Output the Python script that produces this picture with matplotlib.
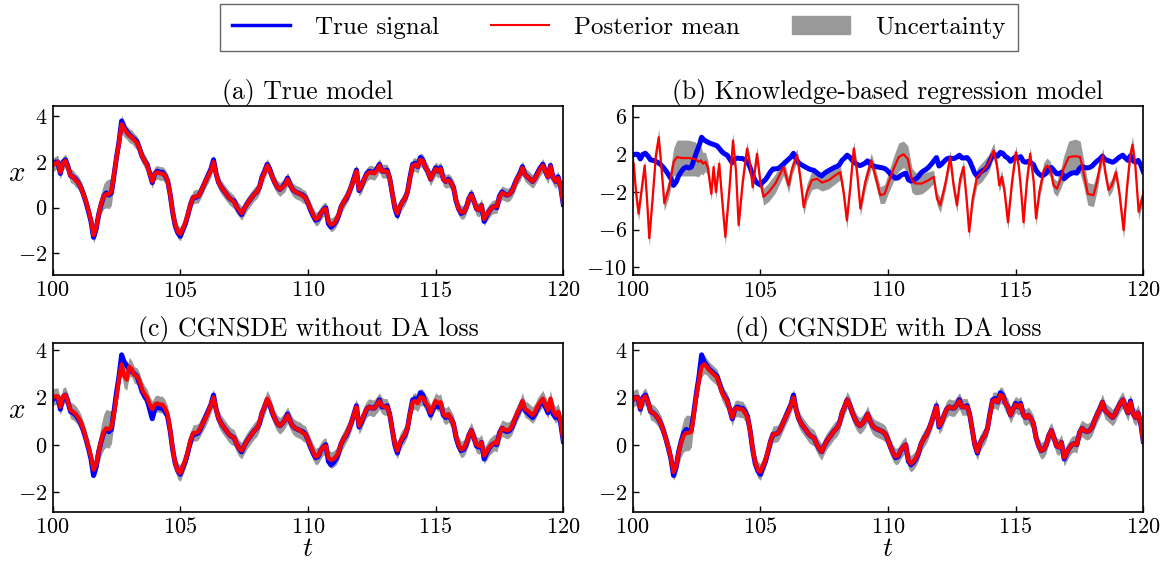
import numpy as np
import matplotlib
matplotlib.use("Agg")
import matplotlib.pyplot as plt
from matplotlib.lines import Line2D
from matplotlib.patches import Patch

# ------------------ CONFIG ------------------
plt.rcParams.update({
    "font.family": "cmr10",
    "mathtext.fontset": "cm",
    "axes.formatter.use_mathtext": True,
    "axes.linewidth": 1.2,
})

# ------------------ DATA ------------------
# time grid for the true signal and CGNSDE posterior means (step 0.1)
t_grid = np.round(np.arange(100.0, 120.05, 0.1), 2)

x_true = [
    1.9, 2.0, 2.0, 1.5, 2.0, 2.1, 1.8, 1.4, 1.35, 1.25,
    1.1, 0.9, 0.6, 0.25, -0.15, -0.6, -1.3, -0.95, -0.3, 0.15,
    0.5, 0.65, 0.55, 0.65, 1.4, 2.2, 2.9, 3.8, 3.5, 3.35,
    3.2, 3.1, 3.0, 2.9, 2.6, 2.25, 2.05, 1.9, 1.5, 1.1,
    1.5, 1.6, 1.55, 1.55, 1.4, 1.2, 0.6, -0.2, -0.8, -1.1,
    -1.25, -0.95, -0.7, -0.3, 0.15, 0.45, 0.45, 0.5, 0.7, 0.95,
    1.2, 1.45, 1.7, 2.1, 1.5, 1.1, 0.9, 0.75, 0.6, 0.45,
    0.35, 0.3, 0.05, -0.15, -0.3, -0.05, 0.15, 0.3, 0.45, 0.6,
    0.7, 0.9, 1.35, 1.6, 1.9, 1.7, 1.35, 1.1, 0.9, 0.8,
    0.9, 1.05, 1.3, 1.0, 0.8, 0.7, 0.65, 0.6, 0.55, 0.45,
    0.2, -0.1, -0.35, -0.55, -0.5, -0.25, -0.1, 0.0, -0.7, -0.85,
    -0.75, -0.6, -0.35, 0.05, 0.25, 0.4, 0.65, 0.95, 1.3, 1.65,
    0.75, 0.95, 1.25, 1.5, 1.6, 1.55, 1.55, 1.7, 1.9, 1.6,
    1.6, 1.65, 1.3, 0.65, 0.0, -0.35, 0.05, 0.25, 0.4, 0.7,
    1.35, 1.9, 1.95, 1.8, 2.2, 2.1, 1.75, 1.6, 1.25, 1.5,
    1.75, 1.6, 1.75, 1.25, 1.15, 1.25, 1.1, 0.9, 0.3, -0.05,
    -0.25, -0.2, 0.0, 0.4, 0.6, 0.3, -0.05, -0.1, 0.1, -0.6,
    -0.35, -0.15, 0.0, 0.05, 0.0, 0.5, 0.7, 0.6, 0.55, 0.6,
    0.75, 1.05, 1.3, 1.5, 1.8, 1.45, 1.35, 1.25, 1.15, 1.3,
    1.55, 1.75, 1.9, 1.6, 1.35, 1.85, 1.3, 1.15, 1.35, 0.9,
    0.15,
]

# (a) true model
mean_true_model = [
    1.85, 1.95, 2.0, 1.55, 1.95, 2.05, 1.75, 1.4, 1.35, 1.2,
    1.1, 0.9, 0.6, 0.3, -0.1, -0.55, -1.2, -0.9, -0.3, 0.2,
    0.5, 0.6, 0.6, 0.7, 1.45, 2.2, 2.85, 3.65, 3.45, 3.3,
    3.15, 3.1, 2.95, 2.85, 2.6, 2.25, 2.05, 1.85, 1.5, 1.15,
    1.5, 1.55, 1.5, 1.5, 1.4, 1.2, 0.6, -0.15, -0.75, -1.05,
    -1.15, -0.9, -0.65, -0.25, 0.15, 0.45, 0.5, 0.5, 0.7, 0.95,
    1.2, 1.4, 1.65, 2.0, 1.5, 1.1, 0.9, 0.75, 0.6, 0.45,
    0.35, 0.25, 0.05, -0.1, -0.25, -0.05, 0.15, 0.3, 0.45, 0.6,
    0.7, 0.9, 1.3, 1.55, 1.85, 1.65, 1.35, 1.1, 0.9, 0.8,
    0.9, 1.0, 1.25, 1.0, 0.8, 0.7, 0.65, 0.6, 0.5, 0.45,
    0.2, -0.05, -0.3, -0.5, -0.45, -0.25, -0.1, -0.05, -0.6, -0.75,
    -0.7, -0.55, -0.3, 0.05, 0.25, 0.45, 0.65, 0.95, 1.25, 1.6,
    0.8, 0.95, 1.25, 1.45, 1.55, 1.55, 1.5, 1.65, 1.85, 1.6,
    1.6, 1.6, 1.3, 0.65, 0.05, -0.25, 0.05, 0.25, 0.4, 0.7,
    1.3, 1.85, 1.9, 1.8, 2.1, 2.05, 1.75, 1.6, 1.25, 1.5,
    1.7, 1.6, 1.7, 1.25, 1.15, 1.2, 1.1, 0.9, 0.35, -0.05,
    -0.2, -0.2, 0.0, 0.4, 0.55, 0.3, -0.05, -0.1, 0.1, -0.5,
    -0.3, -0.15, 0.0, 0.05, 0.05, 0.45, 0.65, 0.6, 0.55, 0.6,
    0.75, 1.0, 1.3, 1.45, 1.75, 1.45, 1.35, 1.25, 1.15, 1.3,
    1.5, 1.7, 1.85, 1.6, 1.35, 1.8, 1.3, 1.15, 1.3, 0.9,
    0.2,
]
std_true_model = [
    0.3, 0.3, 0.3, 0.3, 0.3, 0.3, 0.3, 0.3, 0.3, 0.3,
    0.3, 0.3, 0.3, 0.3, 0.3, 0.3, 0.35, 0.35, 0.4, 0.45,
    0.55, 0.6, 0.65, 0.6, 0.45, 0.35, 0.35, 0.4, 0.35, 0.3,
    0.3, 0.3, 0.3, 0.3, 0.3, 0.3, 0.3, 0.3, 0.3, 0.3,
    0.3, 0.3, 0.3, 0.3, 0.3, 0.3, 0.3, 0.3, 0.3, 0.3,
    0.3, 0.3, 0.3, 0.3, 0.3, 0.3, 0.3, 0.3, 0.3, 0.3,
    0.3, 0.3, 0.3, 0.3, 0.3, 0.3, 0.3, 0.3, 0.3, 0.3,
    0.3, 0.3, 0.3, 0.3, 0.3, 0.3, 0.3, 0.3, 0.3, 0.3,
    0.3, 0.3, 0.3, 0.3, 0.3, 0.3, 0.3, 0.3, 0.3, 0.3,
    0.3, 0.3, 0.3, 0.3, 0.3, 0.3, 0.3, 0.3, 0.3, 0.3,
    0.3, 0.3, 0.3, 0.3, 0.3, 0.3, 0.3, 0.3, 0.3, 0.3,
    0.3, 0.3, 0.3, 0.3, 0.3, 0.3, 0.3, 0.3, 0.3, 0.3,
    0.3, 0.3, 0.3, 0.3, 0.3, 0.3, 0.3, 0.3, 0.3, 0.3,
    0.3, 0.3, 0.3, 0.3, 0.3, 0.3, 0.3, 0.3, 0.3, 0.3,
    0.3, 0.3, 0.3, 0.3, 0.3, 0.3, 0.3, 0.3, 0.3, 0.3,
    0.3, 0.3, 0.3, 0.3, 0.3, 0.3, 0.3, 0.3, 0.3, 0.3,
    0.3, 0.3, 0.3, 0.3, 0.3, 0.3, 0.3, 0.3, 0.3, 0.3,
    0.3, 0.3, 0.3, 0.3, 0.3, 0.3, 0.3, 0.3, 0.3, 0.3,
    0.3, 0.3, 0.3, 0.3, 0.3, 0.3, 0.3, 0.3, 0.3, 0.3,
    0.3, 0.3, 0.3, 0.3, 0.3, 0.3, 0.3, 0.3, 0.3, 0.3,
    0.3,
]

# (c) CGNSDE without DA loss
mean_no_da = [
    2.0, 2.05, 2.05, 1.6, 2.05, 2.1, 1.8, 1.45, 1.4, 1.3,
    1.15, 0.95, 0.65, 0.3, -0.1, -0.5, -1.05, -0.85, -0.3, 0.2,
    0.55, 0.7, 0.65, 0.75, 1.3, 2.0, 2.8, 3.4, 2.9, 2.75,
    3.3, 3.2, 2.95, 2.9, 2.7, 2.35, 2.15, 2.0, 1.7, 1.5,
    1.7, 1.75, 1.7, 1.7, 1.55, 1.3, 0.65, -0.15, -0.8, -1.1,
    -1.2, -0.9, -0.65, -0.25, 0.2, 0.5, 0.5, 0.55, 0.75, 0.95,
    1.15, 1.4, 1.7, 2.0, 1.5, 1.1, 0.9, 0.75, 0.6, 0.45,
    0.35, 0.3, 0.05, -0.15, -0.25, -0.05, 0.15, 0.3, 0.45, 0.6,
    0.7, 0.95, 1.35, 1.6, 1.95, 1.75, 1.4, 1.1, 0.9, 0.8,
    0.9, 1.05, 1.25, 1.0, 0.8, 0.7, 0.65, 0.6, 0.5, 0.45,
    0.2, -0.05, -0.3, -0.5, -0.45, -0.25, -0.1, -0.05, -0.55, -0.65,
    -0.6, -0.5, -0.3, 0.05, 0.25, 0.45, 0.65, 0.95, 1.3, 1.6,
    0.8, 1.0, 1.3, 1.5, 1.6, 1.55, 1.55, 1.7, 1.85, 1.65,
    1.6, 1.6, 1.3, 0.65, 0.05, -0.25, 0.1, 0.3, 0.45, 0.7,
    1.3, 1.8, 1.85, 1.75, 2.0, 2.0, 1.8, 1.65, 1.35, 1.6,
    1.85, 1.75, 1.8, 1.3, 1.2, 1.3, 1.1, 0.9, 0.35, 0.0,
    -0.2, -0.15, 0.05, 0.4, 0.6, 0.3, 0.0, -0.05, 0.1, -0.45,
    -0.3, -0.1, 0.0, 0.1, 0.05, 0.45, 0.7, 0.65, 0.6, 0.65,
    0.8, 1.1, 1.35, 1.55, 1.85, 1.5, 1.45, 1.35, 1.25, 1.4,
    1.65, 1.8, 1.95, 1.7, 1.45, 1.95, 1.45, 1.25, 1.4, 1.0,
    0.2,
]
std_no_da = [
    0.35, 0.35, 0.35, 0.35, 0.35, 0.35, 0.35, 0.35, 0.35, 0.35,
    0.35, 0.35, 0.35, 0.35, 0.35, 0.35, 0.35, 0.4, 0.5, 0.65,
    0.75, 0.8, 0.8, 0.7, 0.5, 0.4, 0.4, 0.45, 0.5, 0.45,
    0.4, 0.35, 0.35, 0.35, 0.35, 0.35, 0.35, 0.35, 0.35, 0.35,
    0.35, 0.35, 0.35, 0.35, 0.35, 0.35, 0.35, 0.35, 0.35, 0.35,
    0.35, 0.35, 0.35, 0.35, 0.35, 0.35, 0.35, 0.35, 0.35, 0.35,
    0.35, 0.35, 0.35, 0.35, 0.35, 0.35, 0.35, 0.35, 0.35, 0.35,
    0.35, 0.35, 0.35, 0.35, 0.35, 0.35, 0.35, 0.35, 0.35, 0.35,
    0.35, 0.35, 0.35, 0.35, 0.35, 0.35, 0.35, 0.35, 0.35, 0.35,
    0.35, 0.35, 0.35, 0.35, 0.35, 0.35, 0.35, 0.35, 0.35, 0.35,
    0.35, 0.35, 0.35, 0.35, 0.35, 0.35, 0.35, 0.35, 0.35, 0.35,
    0.35, 0.35, 0.35, 0.35, 0.35, 0.35, 0.35, 0.35, 0.35, 0.35,
    0.35, 0.35, 0.35, 0.35, 0.35, 0.35, 0.35, 0.35, 0.35, 0.35,
    0.35, 0.35, 0.35, 0.35, 0.35, 0.35, 0.35, 0.35, 0.35, 0.35,
    0.35, 0.35, 0.35, 0.35, 0.35, 0.35, 0.35, 0.35, 0.35, 0.35,
    0.35, 0.35, 0.35, 0.35, 0.35, 0.35, 0.35, 0.35, 0.35, 0.35,
    0.35, 0.35, 0.35, 0.35, 0.35, 0.35, 0.35, 0.35, 0.35, 0.35,
    0.35, 0.35, 0.35, 0.35, 0.35, 0.35, 0.35, 0.35, 0.35, 0.35,
    0.35, 0.35, 0.35, 0.35, 0.35, 0.35, 0.35, 0.35, 0.35, 0.35,
    0.35, 0.35, 0.35, 0.35, 0.35, 0.35, 0.35, 0.35, 0.35, 0.35,
    0.35,
]

# (d) CGNSDE with DA loss
mean_with_da = [
    1.9, 2.0, 2.0, 1.55, 1.95, 2.05, 1.8, 1.4, 1.35, 1.25,
    1.1, 0.9, 0.6, 0.25, -0.1, -0.55, -1.15, -0.9, -0.35, 0.1,
    0.4, 0.5, 0.5, 0.55, 1.3, 2.1, 2.75, 3.3, 3.4, 3.3,
    3.15, 3.05, 2.95, 2.85, 2.55, 2.2, 2.0, 1.85, 1.5, 1.15,
    1.5, 1.55, 1.5, 1.5, 1.35, 1.15, 0.6, -0.15, -0.75, -1.05,
    -1.15, -0.9, -0.65, -0.25, 0.15, 0.45, 0.45, 0.5, 0.7, 0.95,
    1.2, 1.4, 1.7, 2.0, 1.5, 1.1, 0.9, 0.75, 0.6, 0.45,
    0.35, 0.3, 0.05, -0.15, -0.3, -0.05, 0.15, 0.3, 0.45, 0.6,
    0.7, 0.9, 1.35, 1.6, 1.9, 1.7, 1.35, 1.1, 0.9, 0.8,
    0.9, 1.05, 1.3, 1.0, 0.8, 0.7, 0.65, 0.6, 0.55, 0.45,
    0.2, -0.1, -0.35, -0.5, -0.45, -0.25, -0.1, 0.0, -0.65, -0.8,
    -0.7, -0.55, -0.3, 0.05, 0.25, 0.4, 0.65, 0.95, 1.3, 1.6,
    0.8, 0.95, 1.25, 1.5, 1.6, 1.55, 1.55, 1.7, 1.85, 1.6,
    1.6, 1.6, 1.3, 0.65, 0.0, -0.3, 0.05, 0.25, 0.4, 0.7,
    1.3, 1.85, 1.9, 1.8, 2.1, 2.05, 1.75, 1.6, 1.25, 1.5,
    1.7, 1.6, 1.7, 1.25, 1.15, 1.25, 1.1, 0.9, 0.3, -0.05,
    -0.25, -0.2, 0.0, 0.4, 0.6, 0.3, -0.05, -0.1, 0.1, -0.55,
    -0.35, -0.15, 0.0, 0.05, 0.0, 0.5, 0.7, 0.6, 0.55, 0.6,
    0.75, 1.05, 1.3, 1.5, 1.8, 1.45, 1.35, 1.25, 1.15, 1.3,
    1.55, 1.75, 1.9, 1.6, 1.35, 1.8, 1.3, 1.15, 1.35, 0.9,
    0.15,
]
std_with_da = [
    0.35, 0.35, 0.35, 0.35, 0.35, 0.35, 0.35, 0.35, 0.35, 0.35,
    0.35, 0.35, 0.35, 0.35, 0.35, 0.35, 0.35, 0.4, 0.5, 0.6,
    0.7, 0.75, 0.75, 0.65, 0.45, 0.4, 0.4, 0.45, 0.4, 0.35,
    0.35, 0.35, 0.35, 0.35, 0.35, 0.35, 0.35, 0.35, 0.35, 0.35,
    0.35, 0.35, 0.35, 0.35, 0.35, 0.35, 0.35, 0.35, 0.35, 0.35,
    0.35, 0.35, 0.35, 0.35, 0.35, 0.35, 0.35, 0.35, 0.35, 0.35,
    0.35, 0.35, 0.35, 0.35, 0.35, 0.35, 0.35, 0.35, 0.35, 0.35,
    0.35, 0.35, 0.35, 0.35, 0.35, 0.35, 0.35, 0.35, 0.35, 0.35,
    0.35, 0.35, 0.35, 0.35, 0.35, 0.35, 0.35, 0.35, 0.35, 0.35,
    0.35, 0.35, 0.35, 0.35, 0.35, 0.35, 0.35, 0.35, 0.35, 0.35,
    0.35, 0.35, 0.35, 0.35, 0.35, 0.35, 0.35, 0.35, 0.35, 0.35,
    0.35, 0.35, 0.35, 0.35, 0.35, 0.35, 0.35, 0.35, 0.35, 0.35,
    0.35, 0.35, 0.35, 0.35, 0.35, 0.35, 0.35, 0.35, 0.35, 0.35,
    0.35, 0.35, 0.35, 0.35, 0.35, 0.35, 0.35, 0.35, 0.35, 0.35,
    0.35, 0.35, 0.35, 0.35, 0.35, 0.35, 0.35, 0.35, 0.35, 0.35,
    0.35, 0.35, 0.35, 0.35, 0.35, 0.35, 0.35, 0.35, 0.35, 0.35,
    0.35, 0.35, 0.35, 0.35, 0.35, 0.35, 0.35, 0.35, 0.35, 0.35,
    0.35, 0.35, 0.35, 0.35, 0.35, 0.35, 0.35, 0.35, 0.35, 0.35,
    0.35, 0.35, 0.35, 0.35, 0.35, 0.35, 0.35, 0.35, 0.35, 0.35,
    0.35, 0.35, 0.35, 0.35, 0.35, 0.35, 0.35, 0.35, 0.35, 0.35,
    0.35,
]

# (b) knowledge-based regression model, on its own time points
t_kbr = [
    100.0, 100.04, 100.13, 100.23, 100.37, 100.47, 100.56, 100.65, 100.78, 100.91,
    101.02, 101.12, 101.24, 101.41, 101.61, 101.74, 101.93, 102.19, 102.45, 102.58,
    102.68, 102.75, 102.85, 102.95, 103.08, 103.17, 103.26, 103.39, 103.5, 103.63,
    103.79, 103.93, 104.05, 104.15, 104.31, 104.48, 104.61, 104.7, 104.87, 105.0,
    105.13, 105.33, 105.59, 105.91, 106.11, 106.24, 106.44, 106.57, 106.7, 106.83,
    107.02, 107.22, 107.42, 107.68, 107.93, 108.13, 108.26, 108.39, 108.53, 108.66,
    108.79, 108.92, 109.11, 109.35, 109.5, 109.7, 109.87, 110.03, 110.22, 110.42,
    110.61, 110.78, 110.94, 111.07, 111.33, 111.59, 111.79, 111.92, 112.05, 112.25,
    112.44, 112.57, 112.7, 112.83, 112.96, 113.09, 113.18, 113.32, 113.49, 113.68,
    113.94, 114.14, 114.27, 114.36, 114.46, 114.57, 114.7, 114.86, 115.01, 115.12,
    115.22, 115.31, 115.44, 115.57, 115.71, 115.8, 115.93, 116.1, 116.23, 116.36,
    116.49, 116.62, 116.75, 116.88, 117.08, 117.34, 117.53, 117.66, 117.83, 118.05,
    118.19, 118.32, 118.42, 118.51, 118.64, 118.77, 118.93, 119.06, 119.23, 119.36,
    119.49, 119.58, 119.69, 119.82, 120.0,
]
mean_kbr = [
    1.2, 1.0, -2.0, -4.3, -1.3, 0.8, -2.7, -6.9, -2.7, 1.9,
    3.8, 0.8, -3.2, -1.65, 1.2, 1.7, 1.6, 1.6, 1.5, 1.2,
    1.35, 1.0, 1.2, 0.5, -2.2, 0.65, -2.0, 1.0, -2.7, -6.75,
    -1.65, 3.45, 0.1, -5.5, -0.95, 2.6, 0.8, -1.5, 2.05, -0.95,
    -2.5, -2.0, -1.1, 0.65, -1.3, 0.45, 1.9, -0.6, -3.6, -2.0,
    -0.75, -0.6, -1.0, -0.75, -0.25, 0.1, -2.0, -5.0, -1.3, 2.6,
    0.1, -3.75, -0.95, 1.35, -0.25, -2.35, -2.2, -0.95, 0.45, 1.7,
    2.0, 1.5, -0.75, -1.1, -1.1, -0.75, -0.4, -2.7, -3.4, -1.1,
    1.7, -1.3, -3.4, -0.6, 0.65, -3.05, -6.2, -2.7, -0.4, 0.1,
    1.0, 2.4, 0.8, -1.3, -0.4, -2.0, -5.2, -0.95, 2.2, 0.8,
    -2.0, -5.2, -0.95, 2.05, -0.95, -4.8, -2.0, 0.3, 0.8, 0.45,
    -1.3, -1.65, -0.75, 0.45, 1.7, 1.8, 1.7, 0.1, -2.2, -2.35,
    -0.95, 1.0, 1.9, 0.1, -1.8, -1.3, 0.1, -2.0, -6.05, -1.65,
    1.9, 3.0, 0.8, -4.1, -2.2,
]
std_kbr = [
    0.6, 0.6, 0.6, 0.8, 0.6, 0.6, 0.7, 0.9, 0.7, 0.7,
    0.9, 0.7, 0.8, 0.9, 1.5, 1.8, 1.9, 1.9, 1.8, 1.6,
    1.4, 1.2, 1.0, 0.8, 0.7, 0.6, 0.7, 0.6, 0.7, 0.9,
    0.7, 0.8, 0.6, 0.8, 0.6, 0.7, 0.6, 0.6, 0.7, 0.7,
    0.9, 1.0, 1.0, 0.9, 0.8, 0.7, 0.7, 0.7, 0.8, 0.9,
    1.0, 1.0, 0.9, 0.9, 0.9, 0.8, 0.7, 0.9, 0.7, 0.8,
    0.7, 0.8, 0.8, 0.8, 0.8, 0.9, 1.0, 1.1, 1.3, 1.5,
    1.4, 1.4, 1.3, 1.2, 1.1, 0.9, 0.7, 0.7, 0.8, 0.7,
    0.7, 0.7, 0.8, 0.7, 0.7, 0.7, 0.8, 0.8, 0.9, 1.0,
    0.9, 0.8, 0.7, 0.7, 0.7, 0.7, 0.8, 0.7, 0.7, 0.6,
    0.7, 0.8, 0.7, 0.7, 0.7, 0.8, 0.8, 0.8, 0.8, 0.8,
    0.8, 0.8, 1.0, 1.3, 1.7, 1.8, 1.7, 1.4, 1.2, 1.2,
    1.0, 0.8, 0.7, 0.7, 0.7, 0.7, 0.7, 0.7, 0.9, 0.7,
    0.8, 0.9, 0.7, 0.8, 0.7,
]

titles = ["(a) True model", "(b) Knowledge-based regression model",
          "(c) CGNSDE without DA loss", "(d) CGNSDE with DA loss"]
x_ticks = [100, 105, 110, 115, 120]


# ------------------ FUNCTIONS ------------------

def draw_panel(ax, t_mean, mean, std, title, ylim, yticks, thin_mean=False):
    mean = np.asarray(mean)
    std = np.asarray(std)
    ax.fill_between(t_mean, mean - std, mean + std, color="0.6", linewidth=0)
    if thin_mean:
        ax.plot(t_grid, x_true, color="blue", linewidth=3.6)
        ax.plot(t_mean, mean, color="red", linewidth=1.6)
    else:
        ax.plot(t_grid, x_true, color="blue", linewidth=3.6)
        ax.plot(t_mean, mean, color="red", linewidth=3.0)
    ax.set_xlim(100, 120)
    ax.set_ylim(*ylim)
    ax.set_xticks(x_ticks)
    ax.set_yticks(yticks)
    ax.tick_params(direction="in", length=4, width=1, labelsize=16, pad=4,
                   top=False, right=False)
    ax.set_title(title, fontsize=18.5, pad=4)


def main():
    fig = plt.figure(figsize=(11.63, 5.63), dpi=100)
    ax_a = fig.add_axes([0.0453, 0.5115, 0.439, 0.300])
    ax_b = fig.add_axes([0.5440, 0.5115, 0.439, 0.300])
    ax_c = fig.add_axes([0.0453, 0.0911, 0.439, 0.2988])
    ax_d = fig.add_axes([0.5440, 0.0911, 0.439, 0.2988])

    draw_panel(ax_a, t_grid, mean_true_model, std_true_model, titles[0],
               (-2.95, 4.45), [-2, 0, 2, 4])
    draw_panel(ax_b, t_kbr, mean_kbr, std_kbr, titles[1],
               (-10.8, 7.1), [-10, -6, -2, 2, 6], thin_mean=True)
    draw_panel(ax_c, t_grid, mean_no_da, std_no_da, titles[2],
               (-2.83, 4.28), [-2, 0, 2, 4])
    draw_panel(ax_d, t_grid, mean_with_da, std_with_da, titles[3],
               (-2.83, 4.28), [-2, 0, 2, 4])

    for ax in (ax_a, ax_c):
        ax.set_ylabel(r"$x$", fontsize=21, rotation=0)
        ax.yaxis.set_label_coords(-0.07, 0.52)
    for ax in (ax_c, ax_d):
        ax.set_xlabel(r"$t$", fontsize=20, labelpad=-1)

    handles = [Line2D([], [], color="blue", linewidth=2.5),
               Line2D([], [], color="red", linewidth=1.5),
               Patch(facecolor="0.6", edgecolor="0.6")]
    labels = ["True signal", "Posterior mean", "Uncertainty"]
    leg = fig.legend(handles, labels, loc="upper center", bbox_to_anchor=(0.532, 0.993),
                     ncol=3, fontsize=18, frameon=True, fancybox=False,
                     handlelength=2.3, handletextpad=1.0, columnspacing=2.1,
                     borderpad=0.5, borderaxespad=0.0)
    leg.get_frame().set_edgecolor("0.25")
    leg.get_frame().set_linewidth(1.0)

    fig.savefig("out.png", dpi=100)
    plt.close(fig)


if __name__ == "__main__":
    main()
